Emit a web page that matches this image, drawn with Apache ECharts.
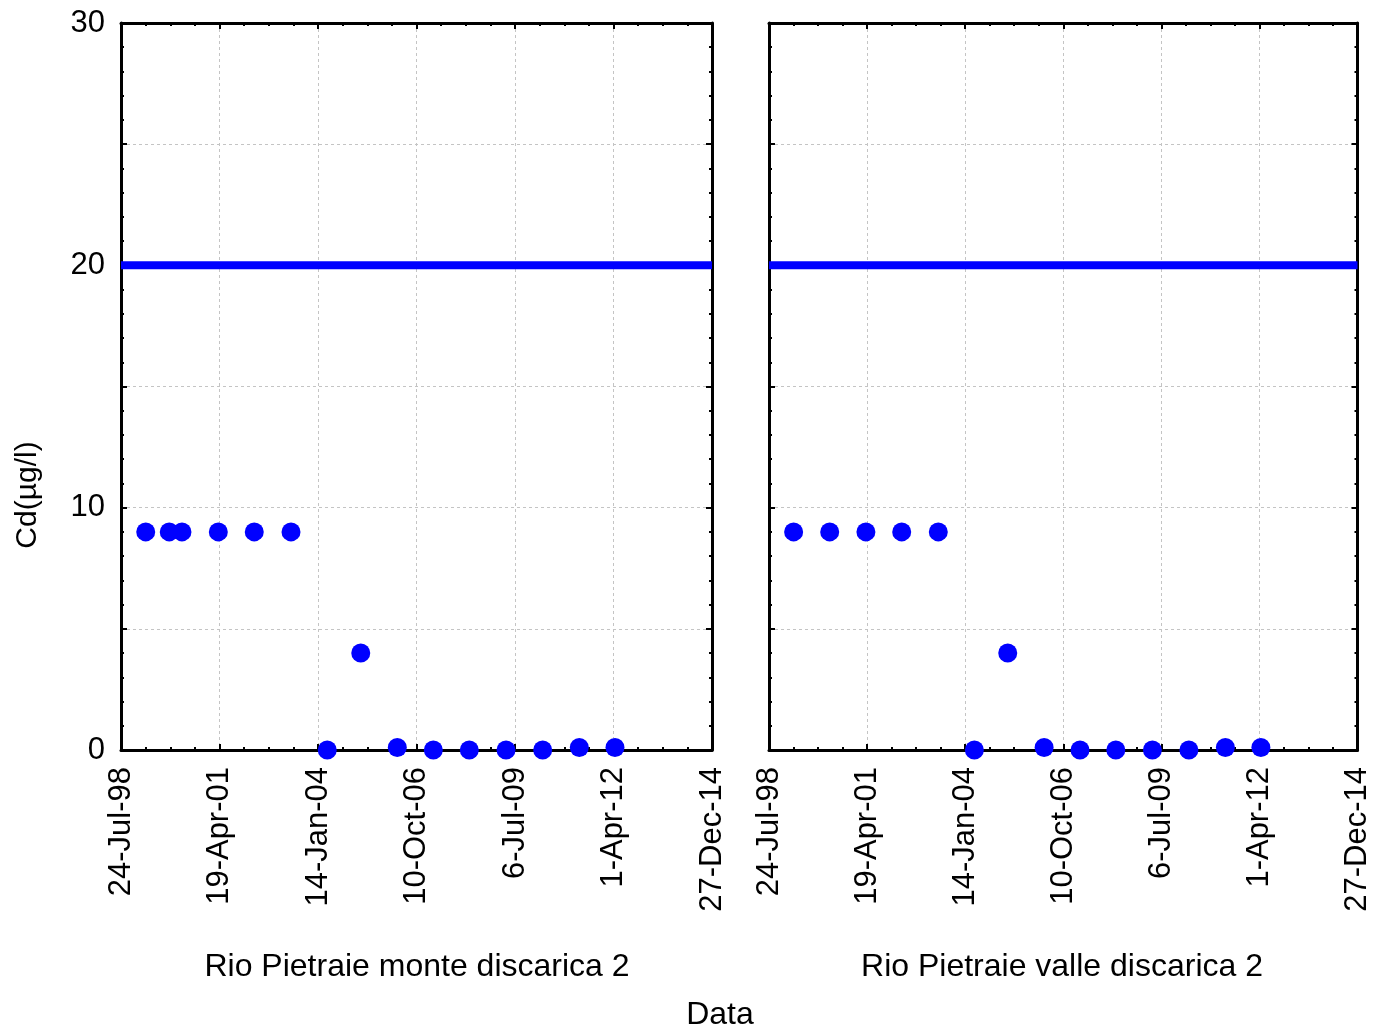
<!DOCTYPE html>
<html>
<head>
<meta charset="utf-8">
<script src="https://cdn.jsdelivr.net/npm/echarts@6/dist/echarts.min.js"></script>
<style>
  html, body { margin: 0; padding: 0; background: #fff; }
  #chart { width: 1373px; height: 1032px; }
</style>
</head>
<body>
<div id="chart"></div>
<script>
// Sampling dates and cadmium concentrations (µg/l) for the two stations
const monteDates = ['1999-04-01','1999-11-26','2000-04-03','2001-04-07','2002-04-07','2003-04-15','2004-04-17','2005-03-23','2006-03-29','2007-03-30','2008-03-29','2009-04-06','2010-04-13','2011-04-20','2012-04-16'];
const monteCd    = [9, 9, 9, 9, 9, 9, 0, 4, 0.1, 0, 0, 0, 0, 0.1, 0.1];

const valleDates = ['1999-04-01','2000-04-03','2001-04-07','2002-04-07','2003-04-15','2004-04-17','2005-03-23','2006-03-29','2007-03-30','2008-03-29','2009-04-06','2010-04-13','2011-04-20','2012-04-16'];
const valleCd    = [9, 9, 9, 9, 9, 0, 4, 0.1, 0, 0, 0, 0, 0.1, 0.1];

// Regulatory limit drawn as a horizontal line
const limitCd = 20;

// Date axis: ticks every 1000 days starting from 24-Jul-98
const xTickLabels = ['24-Jul-98','19-Apr-01','14-Jan-04','10-Oct-06','6-Jul-09','1-Apr-12','27-Dec-14'];
const xStepDays = 1000;
const yTickLabels = [0, 10, 20, 30];

const panelTitles = ['Rio Pietraie monte discarica 2', 'Rio Pietraie valle discarica 2'];

const BASE = Date.UTC(1998, 6, 24);
function dayOffset(s) {
  const [y, m, d] = s.split('-').map(Number);
  return Math.round((Date.UTC(y, m - 1, d) - BASE) / 86400000);
}
const xMax = xStepDays * (xTickLabels.length - 1);

const FONT = '"Liberation Sans", Arial, sans-serif';
const black = '#000';

function xAxisDef(gridIndex, top) {
  return {
    type: 'value', gridIndex: gridIndex, position: top ? 'top' : 'bottom',
    min: 0, max: xMax, interval: xStepDays,
    axisLine: { show: true, onZero: false, lineStyle: { color: black, width: 3 } },
    axisTick: { show: true, inside: true, length: 6, lineStyle: { color: black, width: 2 } },
    minorTick: { show: true, splitNumber: 4, length: 3, lineStyle: { color: black, width: 2 } },
    splitLine: { show: !top, lineStyle: { color: '#c4c4c4', width: 1, type: [3, 3] } },
    axisLabel: top ? { show: false } : {
      show: true, rotate: 90, margin: 17, color: black, fontSize: 31, fontFamily: FONT,
      formatter: v => xTickLabels[Math.round(v / xStepDays)] || ''
    }
  };
}

function yAxisDef(gridIndex, right, labels) {
  return {
    type: 'value', gridIndex: gridIndex, position: right ? 'right' : 'left',
    min: 0, max: 30, interval: 5,
    axisLine: { show: true, onZero: false, lineStyle: { color: black, width: 3 } },
    axisTick: { show: true, inside: true, length: 6, lineStyle: { color: black, width: 2 } },
    minorTick: { show: true, splitNumber: 5, length: 3, lineStyle: { color: black, width: 2 } },
    splitLine: { show: !right, lineStyle: { color: '#c4c4c4', width: 1, type: [3, 3] } },
    axisLabel: (labels && !right) ? {
      show: true, margin: 16, color: black, fontSize: 31, fontFamily: FONT,
      formatter: v => yTickLabels.includes(v) ? String(v) : ''
    } : { show: false }
  };
}

function scatterSeries(axisIdx, dates, vals) {
  return {
    type: 'scatter', xAxisIndex: axisIdx, yAxisIndex: axisIdx,
    symbol: 'circle', symbolSize: 19, clip: false, z: 5,
    itemStyle: { color: '#0000ff', opacity: 1 },
    data: dates.map((d, i) => [dayOffset(d), vals[i]])
  };
}

function limitSeries(axisIdx) {
  return {
    type: 'line', xAxisIndex: axisIdx, yAxisIndex: axisIdx,
    symbol: 'none', clip: false, z: 4,
    lineStyle: { color: '#0000ff', width: 8, cap: 'butt' },
    data: [[0, limitCd], [xMax, limitCd]]
  };
}

const titleStyle = { fontSize: 32, fontWeight: 'normal', color: black, fontFamily: FONT };

const chart = echarts.init(document.getElementById('chart'), null, { renderer: 'canvas' });
chart.setOption({
  animation: false,
  backgroundColor: '#fff',
  grid: [
    { left: 121, right: 661, top: 23, bottom: 282 },
    { left: 769, right: 13, top: 23, bottom: 282 }
  ],
  xAxis: [xAxisDef(0, false), xAxisDef(0, true), xAxisDef(1, false), xAxisDef(1, true)],
  yAxis: [yAxisDef(0, false, true), yAxisDef(0, true, false), yAxisDef(1, false, false), yAxisDef(1, true, false)],
  title: [
    { text: panelTitles[0], left: 417, top: 951, padding: 0, textAlign: 'center', textStyle: titleStyle },
    { text: panelTitles[1], left: 1062, top: 951, padding: 0, textAlign: 'center', textStyle: titleStyle },
    { text: 'Data', left: 720, top: 999, padding: 0, textAlign: 'center', textStyle: titleStyle }
  ],
  graphic: [
    { type: 'text', x: 28, y: 495, rotation: Math.PI / 2,
      style: { text: 'Cd(µg/l)', fill: black, fontSize: 30, fontFamily: FONT,
               textAlign: 'center', textVerticalAlign: 'middle' } }
  ],
  series: [
    limitSeries(0), scatterSeries(0, monteDates, monteCd),
    limitSeries(2), scatterSeries(2, valleDates, valleCd)
  ]
});
</script>
</body>
</html>
